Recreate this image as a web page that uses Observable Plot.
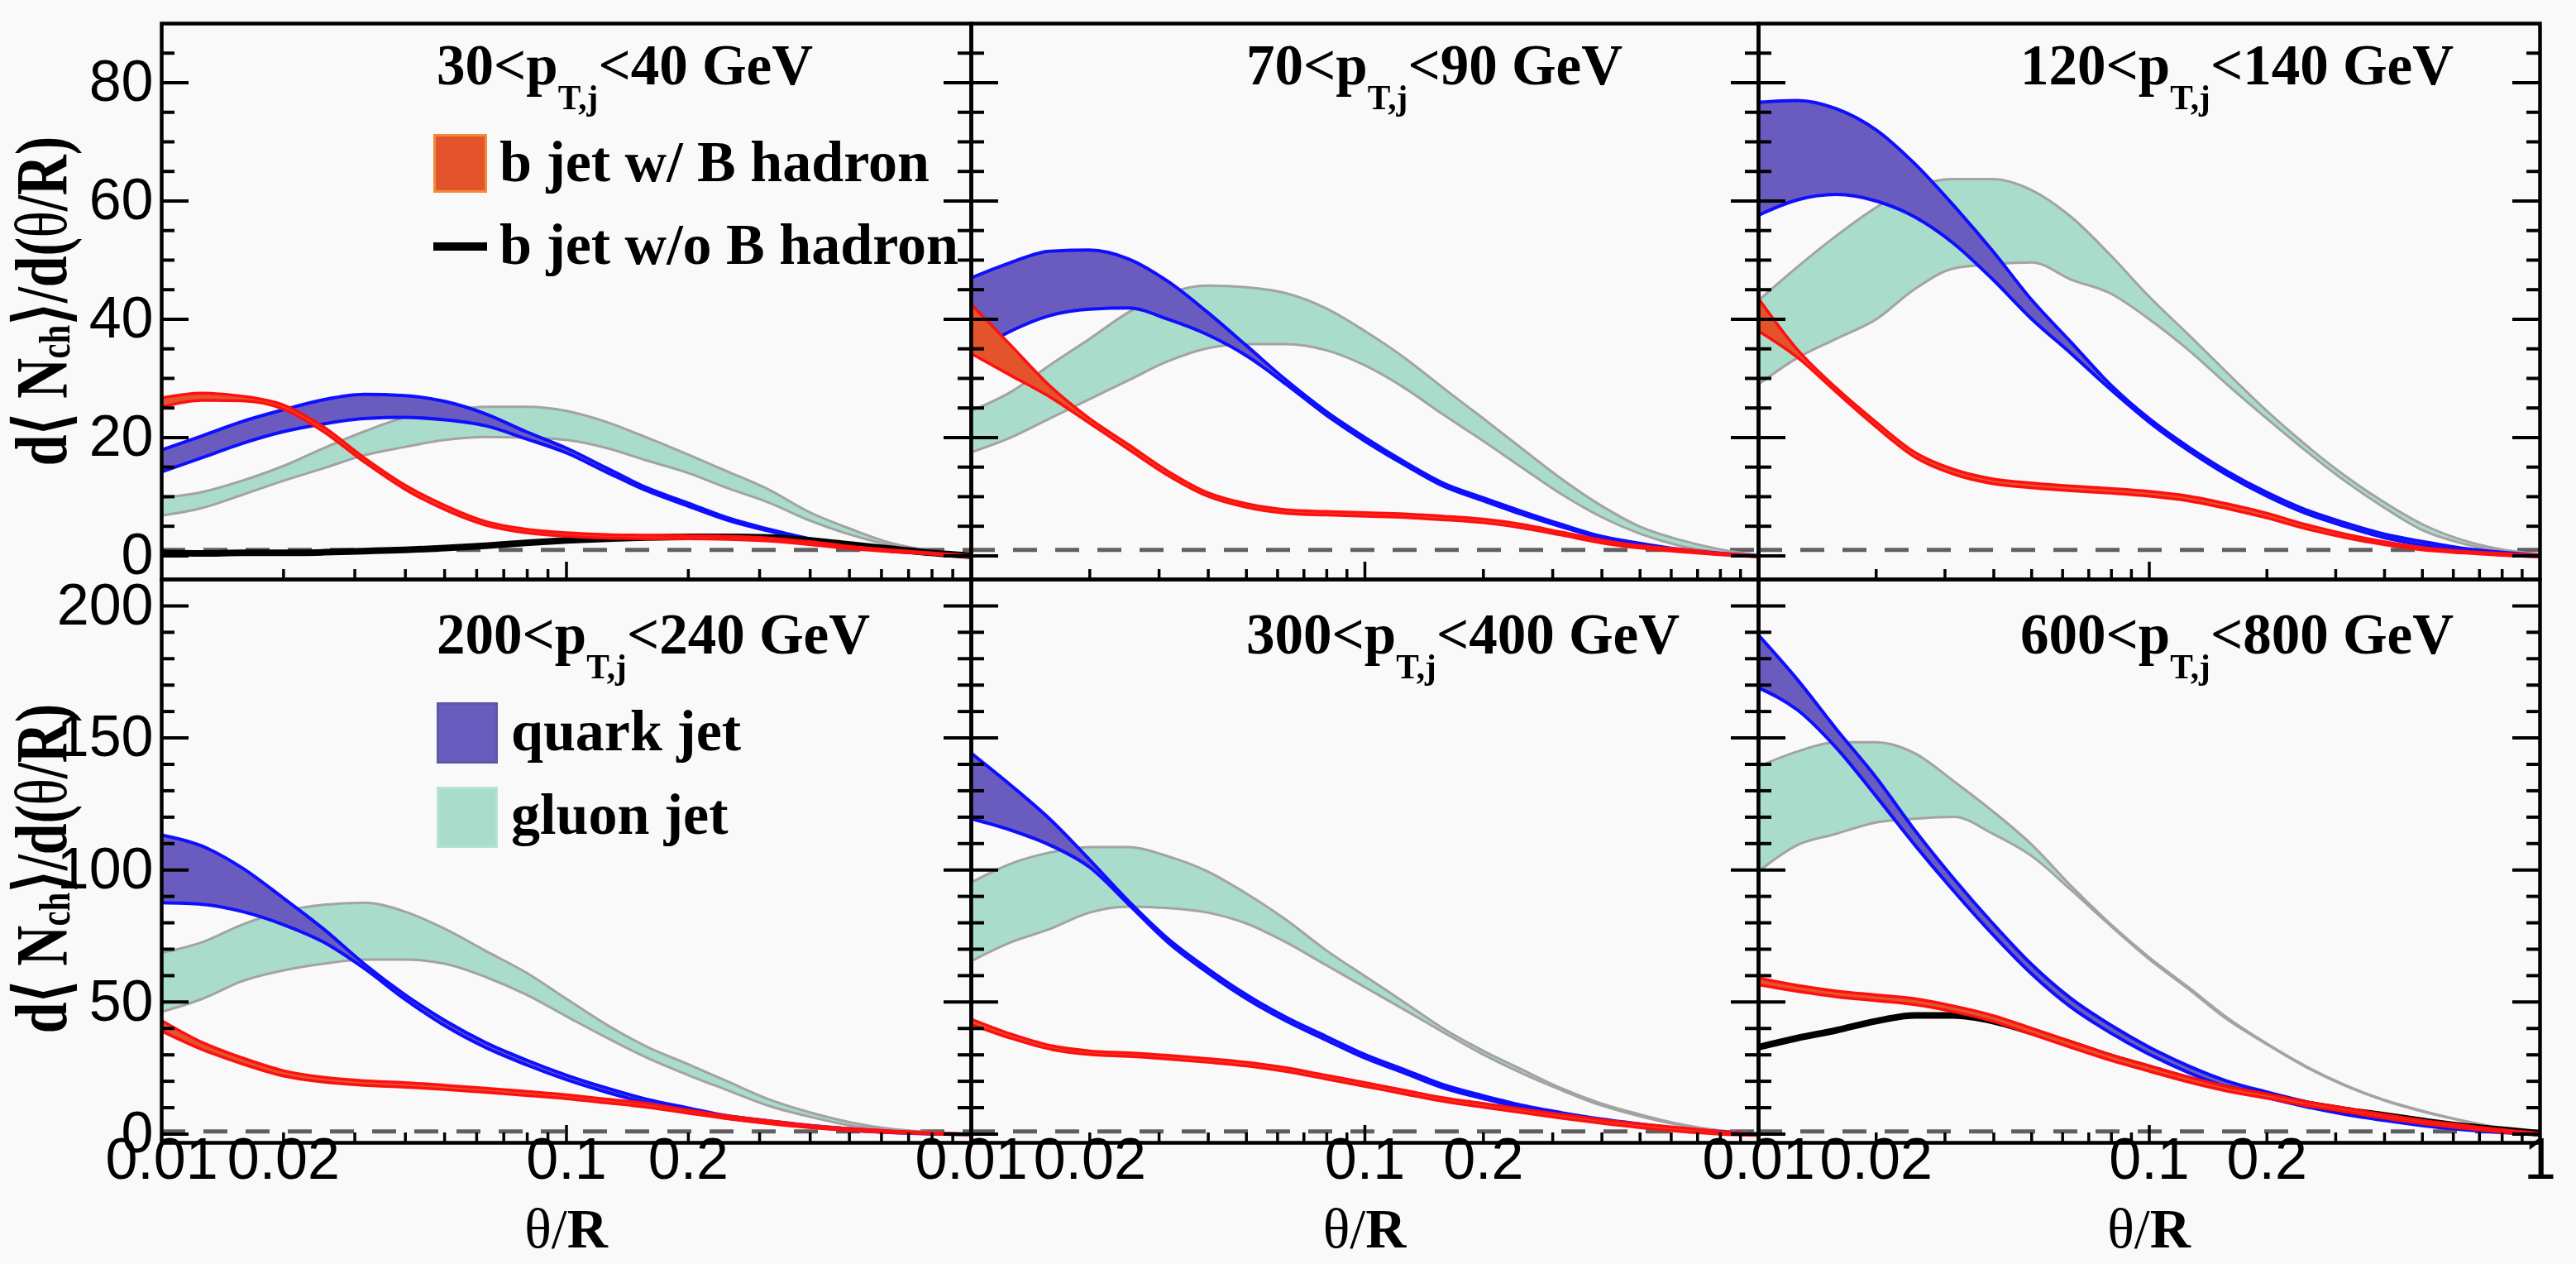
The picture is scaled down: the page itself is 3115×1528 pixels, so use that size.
<!DOCTYPE html>
<html><head><meta charset="utf-8">
<script src="https://cdn.jsdelivr.net/npm/d3@7"></script>
<script src="https://cdn.jsdelivr.net/npm/@observablehq/plot@0.6"></script>
<style>
html,body{margin:0;padding:0;background:#f9f9f9;}
#root{position:relative;width:3115px;height:1528px;overflow:hidden;background:#f9f9f9;}
.panel{position:absolute;}
.serif{position:absolute;font-family:"Liberation Serif","Times New Roman",serif;font-weight:bold;color:#000;white-space:nowrap;line-height:1;}
.sub{font-size:0.6em;position:relative;top:0.72em;}
.sw{position:absolute;box-sizing:border-box;}
</style></head><body><div id="root"></div>
<script>
// ---------------- data ----------------
const thetaR = [0.01, 0.0126, 0.0158, 0.02, 0.0251, 0.0316, 0.0398, 0.0501, 0.0631, 0.0794, 0.1, 0.126, 0.158, 0.2, 0.251, 0.316, 0.398, 0.501, 0.631, 0.794, 1];

const ptLow  = ["30", "70", "120", "200", "300", "600"];
const ptHigh = ["40", "90", "140", "240", "400", "800"];

// panel 1: 30 < pT < 40 GeV
const p1QuarkHi = [17.9, 20.3, 22.7, 24.7, 26.4, 27.3, 27.1, 26.1, 24.0, 21.0, 18.2, 14.8, 11.5, 8.9, 6.4, 4.5, 2.9, 1.8, 0.9, 0.4, 0.0];
const p1QuarkLo = [14.2, 16.6, 19.0, 21.0, 22.3, 23.2, 23.4, 23.0, 22.0, 19.8, 17.4, 14.1, 11.0, 8.4, 6.0, 4.2, 2.6, 1.5, 0.8, 0.3, -0.1];
const p1GluonHi = [9.8, 10.8, 12.7, 15.2, 18.2, 21.0, 23.4, 24.5, 25.2, 25.2, 24.5, 22.6, 20.0, 17.1, 14.2, 11.2, 7.4, 4.6, 2.2, 0.9, 0.3];
const p1GluonLo = [6.8, 8.1, 10.3, 12.7, 14.8, 17.0, 18.4, 19.6, 20.1, 20.0, 19.6, 18.2, 16.1, 14.0, 11.4, 9.0, 6.0, 3.6, 1.8, 0.7, 0.1];
const p1BHadHi  = [26.7, 27.5, 27.0, 25.5, 21.8, 16.6, 12.0, 8.5, 5.8, 4.5, 3.9, 3.6, 3.5, 3.4, 3.3, 3.0, 2.4, 1.6, 1.0, 0.5, 0.0];
const p1BHadLo  = [25.2, 26.3, 26.2, 24.8, 21.0, 15.9, 11.3, 7.8, 5.2, 3.9, 3.3, 3.0, 2.9, 2.9, 2.8, 2.5, 1.9, 1.2, 0.7, 0.3, -0.2];
const p1NoBHad  = [0.5, 0.4, 0.5, 0.5, 0.6, 0.8, 1.0, 1.3, 1.7, 2.2, 2.6, 2.9, 3.1, 3.2, 3.2, 3.1, 2.6, 1.9, 1.2, 0.5, 0.0];

// panel 2: 70 < pT < 90 GeV
const p2QuarkHi = [47.0, 49.6, 51.5, 51.7, 50.2, 46.4, 41.2, 35.5, 29.7, 24.5, 20.0, 15.9, 12.3, 9.8, 7.5, 5.3, 3.3, 2.1, 1.1, 0.45, 0.0];
const p2QuarkLo = [34.2, 38.0, 40.6, 41.7, 41.9, 40.0, 37.4, 33.8, 29.0, 23.9, 19.4, 15.4, 11.8, 9.3, 7.0, 4.9, 3.0, 1.8, 0.9, 0.3, -0.1];
const p2GluonHi = [24.5, 27.7, 32.2, 36.7, 41.2, 44.4, 45.7, 45.4, 44.4, 41.9, 38.0, 33.5, 28.4, 23.2, 18.1, 13.0, 8.5, 4.9, 2.7, 1.1, 0.1];
const p2GluonLo = [17.5, 20.0, 23.2, 26.5, 29.7, 32.9, 35.1, 35.8, 35.8, 34.8, 32.2, 28.4, 23.9, 19.4, 14.9, 10.4, 6.6, 3.7, 1.7, 0.6, 0.0];
const p2BHadHi  = [42.5, 35.6, 28.8, 23.2, 18.8, 14.3, 10.7, 8.8, 7.8, 7.5, 7.3, 7.1, 6.7, 6.2, 5.3, 4.0, 2.7, 1.7, 1.1, 0.45, 0.0];
const p2BHadLo  = [34.2, 30.5, 26.9, 22.4, 18.0, 13.6, 10.1, 8.2, 7.2, 6.9, 6.7, 6.5, 6.1, 5.6, 4.7, 3.5, 2.2, 1.3, 0.7, 0.2, -0.2];

// panel 3: 120 < pT < 140 GeV
const p3QuarkHi = [76.7, 77.0, 75.6, 72.0, 66.3, 59.2, 51.5, 43.2, 36.1, 29.0, 23.2, 18.4, 14.3, 10.7, 7.8, 5.6, 3.7, 2.4, 1.3, 0.6, 0.1];
const p3QuarkLo = [57.6, 60.2, 61.1, 60.0, 57.3, 52.8, 46.7, 40.0, 34.2, 28.2, 22.6, 17.8, 13.7, 10.1, 7.2, 5.0, 3.1, 1.8, 0.8, 0.2, -0.1];
const p3GluonHi = [43.2, 48.9, 54.1, 58.9, 62.4, 63.7, 63.7, 61.8, 57.3, 50.9, 43.8, 37.4, 31.0, 24.5, 18.8, 13.6, 9.1, 5.3, 2.7, 1.1, 0.3];
const p3GluonLo = [29.0, 33.5, 36.7, 40.0, 45.1, 48.6, 49.3, 49.6, 46.7, 44.4, 40.0, 34.8, 29.0, 23.2, 17.8, 12.7, 8.2, 4.3, 2.1, 0.8, 0.1];
const p3BHadHi  = [43.5, 34.8, 28.4, 22.6, 17.5, 14.6, 13.0, 12.3, 11.8, 11.4, 10.9, 10.1, 8.8, 7.2, 5.3, 3.7, 2.4, 1.4, 0.8, 0.4, 0.1];
const p3BHadLo  = [38.0, 33.5, 27.7, 21.8, 16.7, 13.8, 12.2, 11.5, 11.0, 10.6, 10.1, 9.3, 8.0, 6.4, 4.6, 3.1, 1.9, 1.0, 0.5, 0.1, -0.2];

// panel 4: 200 < pT < 240 GeV
const p4QuarkHi = [113.2, 109.0, 100.8, 89.3, 77.7, 64.5, 52.9, 43.0, 34.7, 28.1, 22.3, 17.4, 13.2, 9.9, 6.9, 5.0, 3.3, 2.0, 1.0, 0.3, 0.0];
const p4QuarkLo = [87.6, 87.0, 84.3, 79.3, 72.7, 62.8, 51.2, 41.0, 32.8, 26.3, 20.6, 15.8, 11.8, 8.7, 6.0, 4.2, 2.7, 1.5, 0.6, 0.1, -0.2];
const p4GluonHi = [68.6, 72.7, 79.3, 84.3, 86.8, 87.6, 84.3, 77.7, 69.4, 61.2, 51.2, 41.3, 33.1, 26.4, 19.8, 13.2, 8.3, 4.5, 2.0, 0.7, 0.0];
const p4GluonLo = [46.3, 51.2, 57.9, 62.0, 64.5, 66.1, 66.1, 64.5, 59.5, 52.9, 44.6, 36.4, 28.9, 22.3, 16.5, 10.7, 6.6, 3.3, 1.5, 0.5, 0.0];
const p4BHadHi  = [43.0, 34.7, 28.9, 24.0, 21.5, 20.2, 19.5, 18.5, 17.4, 16.2, 14.9, 13.2, 11.6, 9.1, 6.9, 5.0, 3.3, 2.1, 1.2, 0.5, 0.0];
const p4BHadLo  = [39.0, 32.0, 26.6, 22.0, 19.7, 18.5, 17.8, 16.9, 15.8, 14.6, 13.4, 11.8, 10.2, 7.9, 5.8, 4.0, 2.5, 1.4, 0.6, 0.1, -0.3];

// panel 5: 300 < pT < 400 GeV
const p5QuarkHi = [144.2, 132.1, 119.4, 103.8, 88.2, 74.0, 62.7, 52.7, 44.2, 37.1, 30.1, 24.4, 18.7, 14.5, 10.9, 8.1, 5.7, 3.8, 2.1, 1.0, 0.0];
const p5QuarkLo = [119.4, 115.1, 109.5, 101.0, 87.0, 72.6, 61.2, 51.2, 42.8, 35.7, 28.8, 23.1, 17.5, 13.4, 9.9, 7.2, 5.0, 3.2, 1.6, 0.6, -0.3];
const p5GluonHi = [95.3, 102.4, 106.6, 108.7, 108.7, 105.2, 99.5, 91.0, 81.1, 69.8, 59.8, 49.9, 40.0, 31.5, 24.4, 17.3, 11.6, 7.4, 3.8, 1.4, 0.3];
const p5GluonLo = [65.5, 72.6, 77.6, 83.9, 86.1, 85.6, 83.9, 79.7, 72.6, 64.1, 55.6, 47.1, 38.6, 30.1, 23.0, 16.6, 10.9, 6.7, 3.4, 1.3, 0.3];
const p5BHadHi  = [43.5, 37.9, 33.6, 31.5, 30.8, 29.8, 28.6, 27.2, 25.1, 22.3, 19.5, 16.6, 13.8, 11.6, 9.5, 7.4, 5.5, 3.8, 2.4, 1.0, 0.0];
const p5BHadLo  = [41.5, 36.3, 32.2, 30.1, 29.4, 28.4, 27.2, 25.8, 23.7, 20.9, 18.1, 15.2, 12.4, 10.2, 8.1, 6.0, 4.1, 2.4, 1.0, 0.0, -0.5];

// panel 6: 600 < pT < 800 GeV
const p6QuarkHi = [188.9, 171.9, 153.4, 135.0, 115.1, 96.7, 79.7, 64.1, 51.3, 41.4, 32.9, 25.8, 20.1, 15.9, 12.3, 9.2, 6.7, 4.5, 2.8, 1.4, 0.3];
const p6QuarkLo = [169.0, 160.5, 146.3, 127.9, 109.5, 92.0, 75.5, 60.5, 48.0, 38.4, 30.2, 23.3, 17.8, 13.8, 10.4, 7.5, 5.2, 3.2, 1.7, 0.6, -0.3];
const p6GluonHi = [139.2, 144.9, 148.4, 148.4, 144.2, 133.6, 122.2, 109.5, 93.9, 79.7, 66.9, 55.6, 44.2, 34.3, 25.8, 18.7, 13.0, 8.8, 5.2, 2.4, 1.0];
const p6GluonLo = [99.5, 109.5, 113.7, 118.0, 119.4, 120.1, 113.7, 105.2, 92.4, 79.0, 66.2, 54.9, 43.5, 34.0, 25.5, 18.4, 12.8, 8.5, 5.1, 2.3, 0.9];
const p6BHadHi  = [59.1, 56.3, 54.2, 52.7, 51.3, 48.5, 44.9, 40.0, 35.0, 30.1, 25.8, 21.6, 18.0, 15.2, 12.3, 9.9, 7.4, 5.2, 3.4, 1.7, 0.3];
const p6BHadLo  = [56.5, 54.0, 52.0, 50.5, 49.0, 46.3, 42.7, 37.8, 32.8, 28.0, 23.8, 19.7, 16.3, 13.6, 10.8, 8.5, 6.1, 4.0, 2.3, 0.8, -0.3];
const p6NoBHad  = [32.9, 36.4, 39.3, 42.8, 44.9, 44.9, 42.8, 38.6, 34.3, 29.3, 25.1, 20.8, 17.3, 14.5, 11.6, 9.2, 7.1, 5.0, 3.1, 1.7, 0.3];

// axis ticks
const xTickValues = [0.01, 0.02, 0.1, 0.2];
const xTickLabels = ["0.01", "0.02", "0.1", "0.2"];
const xLastValues = [0.01, 0.02, 0.1, 0.2, 1];
const xLastLabels = ["0.01", "0.02", "0.1", "0.2", "1"];
const xMajorTicks = [0.1];
const xMinorTicks = [0.02, 0.03, 0.04, 0.05, 0.06, 0.07, 0.08, 0.09, 0.2, 0.3, 0.4, 0.5, 0.6, 0.7, 0.8, 0.9];
const yTopMajor = [0, 20, 40, 60, 80];
const yTopMinor = [5, 10, 15, 25, 30, 35, 45, 50, 55, 65, 70, 75, 85];
const yBotMajor = [0, 50, 100, 150, 200];
const yBotMinor = [10, 20, 30, 40, 60, 70, 80, 90, 110, 120, 130, 140, 160, 170, 180, 190];
const dashedLevel = [1];
// y-axis title pieces: [text, role]
const yTitleParts = [["d⟨ N", "main"], ["ch", "sub"], ["⟩/d(", "main"], ["θ", "light"], ["/R)", "main"]];

// ---------------- assembly ----------------
const series = [
  {qh: p1QuarkHi, ql: p1QuarkLo, gh: p1GluonHi, gl: p1GluonLo, bh: p1BHadHi, bl: p1BHadLo, nb: p1NoBHad},
  {qh: p2QuarkHi, ql: p2QuarkLo, gh: p2GluonHi, gl: p2GluonLo, bh: p2BHadHi, bl: p2BHadLo},
  {qh: p3QuarkHi, ql: p3QuarkLo, gh: p3GluonHi, gl: p3GluonLo, bh: p3BHadHi, bl: p3BHadLo},
  {qh: p4QuarkHi, ql: p4QuarkLo, gh: p4GluonHi, gl: p4GluonLo, bh: p4BHadHi, bl: p4BHadLo},
  {qh: p5QuarkHi, ql: p5QuarkLo, gh: p5GluonHi, gl: p5GluonLo, bh: p5BHadHi, bl: p5BHadLo},
  {qh: p6QuarkHi, ql: p6QuarkLo, gh: p6GluonHi, gl: p6GluonLo, bh: p6BHadHi, bl: p6BHadLo, nb: p6NoBHad}
];

const colLeft = [195, 1174, 2126];
const colWidth = [979, 952, 945];
const rowTop = [28, 700];
const rowHeight = [672, 681];
const rowDomain = [[-4, 90], [-3.3, 210]];

const C = {
  gluonFill: "#aadccb", gluonEdge: "#a3a3a3",
  quarkFill: "#6a5cbe", quarkEdge: "#0f0fff",
  bFill: "#e4542c", bEdge: "#ff1010", noB: "#000000",
  dash: "#606060"
};
const sansFont = "'Liberation Sans', Arial, Helvetica, sans-serif";
const serifFont = "'Liberation Serif', 'Times New Roman', serif";
const curve = "monotone-x";

const root = document.getElementById("root");

function makePanel(i) {
  const r = Math.floor(i / 3), c = i % 3;
  const W = colWidth[c], H = rowHeight[r];
  const s = series[i];
  const rows = thetaR.map((t, k) => ({t, qh: s.qh[k], ql: s.ql[k], gh: s.gh[k], gl: s.gl[k], bh: s.bh[k], bl: s.bl[k], nb: s.nb ? s.nb[k] : null}));
  const yMaj = r === 0 ? yTopMajor : yBotMajor;
  const yMin = r === 0 ? yTopMinor : yBotMinor;
  const marks = [
    Plot.ruleY(dashedLevel, {stroke: C.dash, strokeWidth: 5, strokeDasharray: "29,22"}),
    Plot.areaY(rows, {x: "t", y1: "gl", y2: "gh", fill: C.gluonFill, curve, clip: true}),
    Plot.line(rows, {x: "t", y: "gh", stroke: C.gluonEdge, strokeWidth: 3, curve, clip: true}),
    Plot.line(rows, {x: "t", y: "gl", stroke: C.gluonEdge, strokeWidth: 3, curve, clip: true}),
    Plot.areaY(rows, {x: "t", y1: "ql", y2: "qh", fill: C.quarkFill, mixBlendMode: "multiply", curve, clip: true}),
    Plot.line(rows, {x: "t", y: "qh", stroke: C.quarkEdge, strokeWidth: 4, curve, clip: true}),
    Plot.line(rows, {x: "t", y: "ql", stroke: C.quarkEdge, strokeWidth: 4, curve, clip: true})
  ];
  if (s.nb) marks.push(Plot.line(rows, {x: "t", y: "nb", stroke: C.noB, strokeWidth: 8, curve, clip: true}));
  marks.push(
    Plot.areaY(rows, {x: "t", y1: "bl", y2: "bh", fill: C.bFill, curve, clip: true}),
    Plot.line(rows, {x: "t", y: "bh", stroke: C.bEdge, strokeWidth: 3.5, curve, clip: true}),
    Plot.line(rows, {x: "t", y: "bl", stroke: C.bEdge, strokeWidth: 3.5, curve, clip: true}),
    // inward ticks
    Plot.tickY(yMaj, {y: d => d, insetRight: W - 33, stroke: "#000", strokeWidth: 4}),
    Plot.tickY(yMaj, {y: d => d, insetLeft: W - 33, stroke: "#000", strokeWidth: 4}),
    Plot.tickY(yMin, {y: d => d, insetRight: W - 16, stroke: "#000", strokeWidth: 4}),
    Plot.tickY(yMin, {y: d => d, insetLeft: W - 16, stroke: "#000", strokeWidth: 4}),
    Plot.tickX(xMinorTicks, {x: d => d, insetTop: H - 12, stroke: "#000", strokeWidth: 3.5}),
    Plot.tickX(xMajorTicks, {x: d => d, insetTop: H - 21, stroke: "#000", strokeWidth: 3.5}),
    Plot.frame({stroke: "#000", strokeWidth: 4.5})
  );
  if (c === 0) {
    marks.push(Plot.text(yMaj, {y: d => d, frameAnchor: "left", text: d => String(d), textAnchor: "end", dx: -10,
      fontSize: 70, fontFamily: sansFont, fill: "#000"}));
  }
  if (r === 1) {
    const vals = c === 2 ? xLastValues : xTickValues;
    const labs = c === 2 ? xLastLabels : xTickLabels;
    marks.push(Plot.text(vals, {x: d => d, frameAnchor: "bottom", text: (d, j) => labs[j], dy: 43,
      fontSize: 70, fontFamily: sansFont, fill: "#000"}));
  }
  const svg = Plot.plot({
    width: W, height: H, margin: 0,
    x: {type: "log", domain: [0.01, 1], axis: null},
    y: {domain: rowDomain[r], axis: null},
    style: {overflow: "visible", background: "transparent"},
    marks
  });
  svg.classList.add("panel");
  svg.style.left = colLeft[c] + "px";
  svg.style.top = rowTop[r] + "px";
  root.appendChild(svg);
}
for (let i = 0; i < 6; i++) makePanel(i);

// ---------------- text overlays ----------------
function addSerif(html, left, top, size, extra) {
  const d = document.createElement("div");
  d.className = "serif";
  d.style.left = left + "px";
  d.style.top = top + "px";
  d.style.fontSize = size + "px";
  if (extra) Object.assign(d.style, extra);
  d.innerHTML = html;
  root.appendChild(d);
  return d;
}
const labelLeft = [528, 1507, 2443];
const labelTop = [45, 733];
for (let i = 0; i < 6; i++) {
  const r = Math.floor(i / 3), c = i % 3;
  addSerif(`${ptLow[i]}&lt;p<span class="sub">T,j</span>&lt;${ptHigh[i]} GeV`, labelLeft[c], labelTop[r], 69);
}
// legend
const legendEntries = [
  {text: "b jet w/ B hadron", kind: "box", color: C.bFill, border: "#f08a3a", x: 524, y: 162, w: 65, h: 71, tx: 604, ty: 161},
  {text: "b jet w/o B hadron", kind: "line", color: C.noB, x: 524, y: 293, w: 65, h: 10, tx: 604, ty: 261},
  {text: "quark jet", kind: "box", color: C.quarkFill, border: "#5a58a8", x: 528, y: 849, w: 74, h: 74, tx: 618, ty: 849},
  {text: "gluon jet", kind: "box", color: C.gluonFill, border: "#b5e2d3", x: 528, y: 951, w: 74, h: 74, tx: 618, ty: 950}
];
for (const e of legendEntries) {
  const sw = document.createElement("div");
  sw.className = "sw";
  Object.assign(sw.style, {left: e.x + "px", top: e.y + "px", width: e.w + "px", height: e.h + "px", background: e.color});
  if (e.kind === "box") sw.style.border = "3px solid " + e.border;
  root.appendChild(sw);
  addSerif(e.text, e.tx, e.ty, 70);
}
// x-axis titles
for (let c = 0; c < 3; c++) {
  const cx = colLeft[c] + colWidth[c] / 2;
  addSerif(`<span style="font-weight:normal">θ/</span>R`, cx - 200, 1451, 68, {width: "400px", textAlign: "center"});
}
// y-axis titles: rotated SVG text, pieces laid out one after another
const overlay = d3.select(root).append("svg")
  .attr("width", 3115).attr("height", 1528)
  .style("position", "absolute").style("left", "0px").style("top", "0px")
  .style("overflow", "visible").style("pointer-events", "none");
const titleCenters = [364, 1050];
const titleSize = 88, squeeze = 0.77, baseX = 80;
for (const cy of titleCenters) {
  const g = overlay.append("g");
  const pieces = yTitleParts.map(([txt, role]) => {
    const t = g.append("text")
      .attr("font-family", serifFont)
      .attr("font-weight", role === "light" ? "normal" : "bold")
      .attr("font-size", role === "sub" ? titleSize * 0.6 : titleSize)
      .attr("fill", "#000").text(txt);
    return {t, role, len: t.node().getComputedTextLength()};
  });
  const total = d3.sum(pieces, p => p.len);
  let pos = -total / 2;
  for (const p of pieces) {
    const along = pos * squeeze;
    p.t.attr("transform", `translate(${baseX + (p.role === "sub" ? 4 : 0)},${cy - along}) rotate(-90) scale(${squeeze},1)`);
    pos += p.len;
  }
}
</script></body></html>
